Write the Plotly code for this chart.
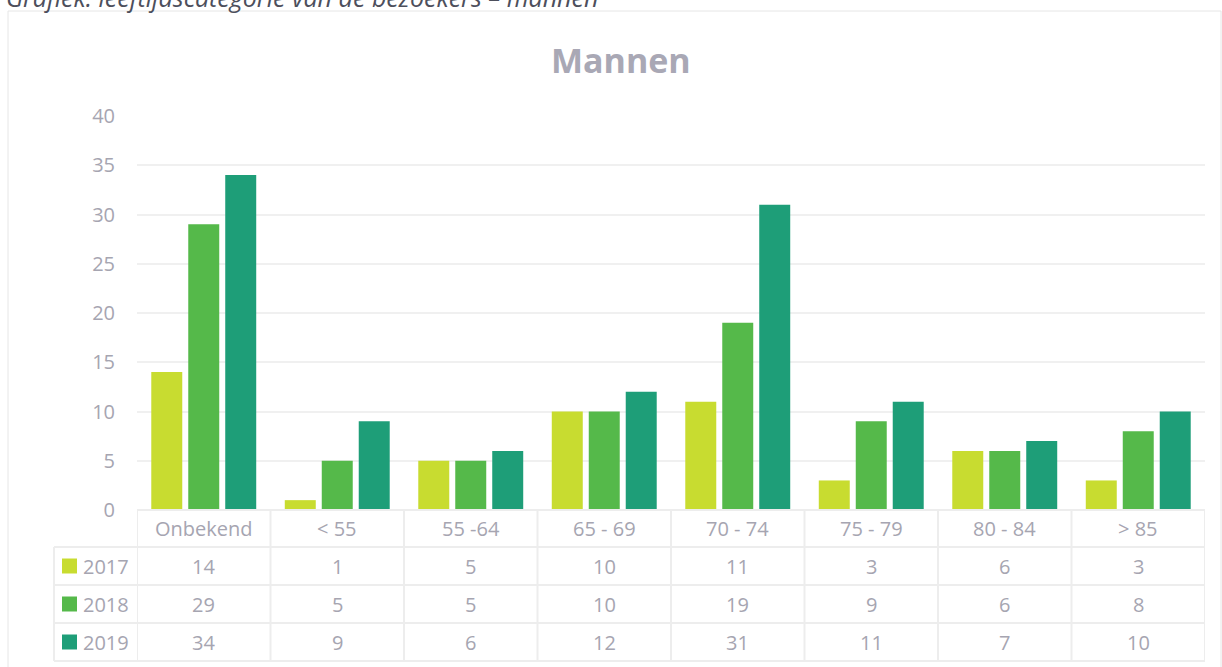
import plotly.graph_objects as go

categories = ["Onbekend", "< 55", "55 -64", "65 - 69", "70 - 74", "75 - 79", "80 - 84", "> 85"]
years = ["2017", "2018", "2019"]
v2017 = [14, 1, 5, 10, 11, 3, 6, 3]
v2018 = [29, 5, 5, 10, 19, 9, 6, 8]
v2019 = [34, 9, 6, 12, 31, 11, 7, 10]
series = [v2017, v2018, v2019]
colors = ["#C8DC30", "#55B94A", "#1E9E78"]
y_ticks = [0, 5, 10, 15, 20, 25, 30, 35, 40]

W, H = 1222, 667
OFF = 0  # body margin removed via post_script
FONT = "Open Sans"
TXT = "#A6A5B1"
GRID = "#F0F0F0"
FS = 20


def py(pix):  # page pixel from top -> paper y
    return (H - (pix - OFF)) / H


def px(pix):
    return (pix - OFF) / W


fig = go.Figure()
for name, vals, col in zip(years, series, colors):
    fig.add_trace(go.Bar(x=categories, y=vals, name=name, marker=dict(color=col, line=dict(width=0))))

fig.update_layout(
    width=W, height=H,
    margin=dict(l=0, r=0, t=0, b=0, autoexpand=False),
    paper_bgcolor="white", plot_bgcolor="white",
    barmode="group", bargap=0.169, bargroupgap=0.162,
    showlegend=False,
    font=dict(family=FONT, color=TXT, size=FS),
    xaxis=dict(domain=[px(137), px(1205)], range=[-0.5, len(categories) - 0.5], automargin=False,
               showticklabels=False, showgrid=False, zeroline=False, showline=False, ticks=""),
    yaxis=dict(domain=[py(510), py(116)], range=[0, 40], tickvals=y_ticks, automargin=False,
               showgrid=True, gridcolor=GRID, gridwidth=2, zeroline=False, showline=False,
               ticks="", ticklabelstandoff=21, tickfont=dict(size=FS, color=TXT, family=FONT)),
)

shapes = []
shapes.append(dict(type="rect", xref="paper", yref="paper", x0=px(8), x1=px(1221), y0=py(668), y1=py(11),
                   line=dict(color="#E6E6E6", width=1), fillcolor="rgba(0,0,0,0)", layer="below"))
LC = "#EDEDED"
LW = 2
n = len(categories)
for ypix in [510, 547]:
    shapes.append(dict(type="line", xref="x", yref="paper", x0=-0.5, x1=n - 0.5, y0=py(ypix), y1=py(ypix),
                       line=dict(color=LC, width=LW)))
for ypix in [547, 585, 623, 661]:
    shapes.append(dict(type="line", xref="paper", yref="paper", x0=px(54), x1=px(1205), y0=py(ypix), y1=py(ypix),
                       line=dict(color=LC, width=LW)))
for i in range(n + 1):
    shapes.append(dict(type="line", xref="x", yref="paper", x0=i - 0.5, x1=i - 0.5, y0=py(661), y1=py(510),
                       line=dict(color=LC, width=LW)))
shapes.append(dict(type="line", xref="paper", yref="paper", x0=px(54), x1=px(54), y0=py(661), y1=py(547),
                   line=dict(color=LC, width=LW)))

row_centers = [566, 604, 642]
for rc, col in zip(row_centers, colors):
    shapes.append(dict(type="rect", xref="paper", yref="paper", x0=px(62), x1=px(77), y0=py(rc + 7.5), y1=py(rc - 7.5),
                       line=dict(width=0), fillcolor=col))
fig.update_layout(shapes=shapes)

ann = []
ann.append(dict(text="<i>Grafiek: leeftijdscategorie van de bezoekers – mannen</i>", xref="paper", yref="paper",
                x=px(4), y=py(16), xanchor="left", yanchor="bottom", showarrow=False,
                font=dict(family=FONT, size=25, color="#4D4F5C")))
ann.append(dict(text="<b>Mannen</b>", xref="paper", yref="paper", x=px(621), y=py(60), xanchor="center",
                yanchor="middle", showarrow=False, font=dict(family=FONT, size=34, color="#A9A8B5")))
for i, c in enumerate(categories):
    ann.append(dict(text=c, xref="x", yref="paper", x=i, y=py(528), xanchor="center", yanchor="middle",
                    showarrow=False, font=dict(size=FS, color=TXT, family=FONT)))
for rc, name, vals in zip(row_centers, years, series):
    ann.append(dict(text=name, xref="paper", yref="paper", x=px(81), y=py(rc), xanchor="left", yanchor="middle",
                    showarrow=False, font=dict(size=FS, color=TXT, family=FONT)))
    for i, v in enumerate(vals):
        ann.append(dict(text=str(v), xref="x", yref="paper", x=i, y=py(rc), xanchor="center", yanchor="middle",
                        showarrow=False, font=dict(size=FS, color=TXT, family=FONT)))
fig.update_layout(annotations=ann)

fig.write_html("out.html", config={"displayModeBar": False},
               post_script="document.body.style.margin='0px';")
